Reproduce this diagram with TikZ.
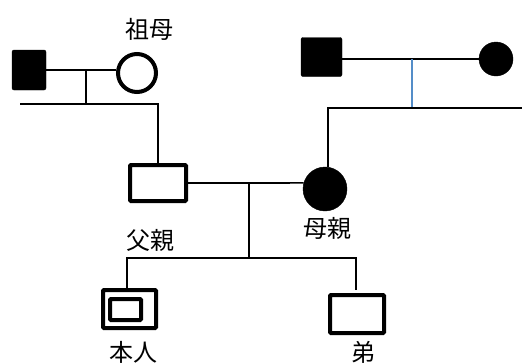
\documentclass[tikz,border=0pt]{standalone}
\usepackage{fontspec}
\newfontfamily\cjk{Noto Sans CJK JP}
\definecolor{lineblue}{RGB}{84,141,200}
\begin{document}
\begin{tikzpicture}[x=1pt,y=1pt,
  lbl/.style={font=\cjk\fontsize{24}{28}\selectfont, inner sep=0pt},
  conn/.style={line width=1.7pt},
  fsq/.style={fill=black, draw=black, rounded corners=2pt, inner sep=0pt},
  fcirc/.style={circle, fill=black, draw=black, inner sep=0pt},
  ocirc/.style={circle, draw=black, line width=4pt, inner sep=0pt, fill=white},
  obox/.style={rectangle, draw=black, line width=4pt, inner sep=0pt, rounded corners=1pt, fill=white},
]
\useasboundingbox (0,0) rectangle (522,-362);
% nodes
\node[fsq, minimum width=34pt, minimum height=40pt] (gf) at (29,-70) {};
\node[ocirc, minimum size=38pt] (gm) at (137,-73) {};
\node[fsq, minimum width=41pt, minimum height=39pt] (ggf) at (321.5,-57) {};
\node[fcirc, minimum size=34pt] (ggm) at (496,-59) {};
\node[obox, minimum width=56pt, minimum height=36pt] (fa) at (158,-183) {};
\node[fcirc, minimum size=44pt] (mo) at (325,-189) {};
\node[obox, minimum width=53pt, minimum height=38pt] (self) at (129.5,-309) {};
\node[obox, minimum width=31pt, minimum height=21pt] (selfin) at (125.5,-309.5) {};
\node[obox, minimum width=54pt, minimum height=38pt] (br) at (357,-314) {};
% labels
\node[lbl] (l1) at (149,-29) {祖母};
\node[lbl] (l2) at (150,-240) {父親};
\node[lbl] (l3) at (327,-228) {母親};
\node[lbl] (l4) at (133,-352) {本人};
\node[lbl] (l5) at (363,-352) {弟};
% coordinates
\coordinate (m1) at (86,-70);
\coordinate (s1) at (86,-104);
\coordinate (s1L) at (20,-104);
\coordinate (s1R) at (158,-104);
\coordinate (m2) at (412,-59);
\coordinate (s2) at (412,-108);
\coordinate (s2L) at (328,-108);
\coordinate (s2R) at (522,-108);
\coordinate (m3) at (249,-183);
\coordinate (s3) at (249,-258);
\coordinate (s3L) at (127,-258);
\coordinate (s3R) at (356,-258);
\coordinate (bt) at (356,-290);
% connectors
\draw[conn] (gf.east) -- (gf.east -| gm.west);
\draw[conn] (m1) -- (s1);
\draw[conn] (s1L) -- (s1R) -- (s1R |- fa.north);
\draw[conn] (ggf.east |- ggm) -- (ggm.west);
\draw[line width=1.7pt, lineblue] (m2) -- (s2);
\draw[conn] (s2R) -- (s2L) -- (s2L |- mo.north);
\draw[conn] (fa.east) -- (mo.164);
\draw[conn] (m3) -- (s3);
\draw[conn] (s3L |- self.north) -- (s3L) -- (s3R) -- (bt);
\end{tikzpicture}
\end{document}
